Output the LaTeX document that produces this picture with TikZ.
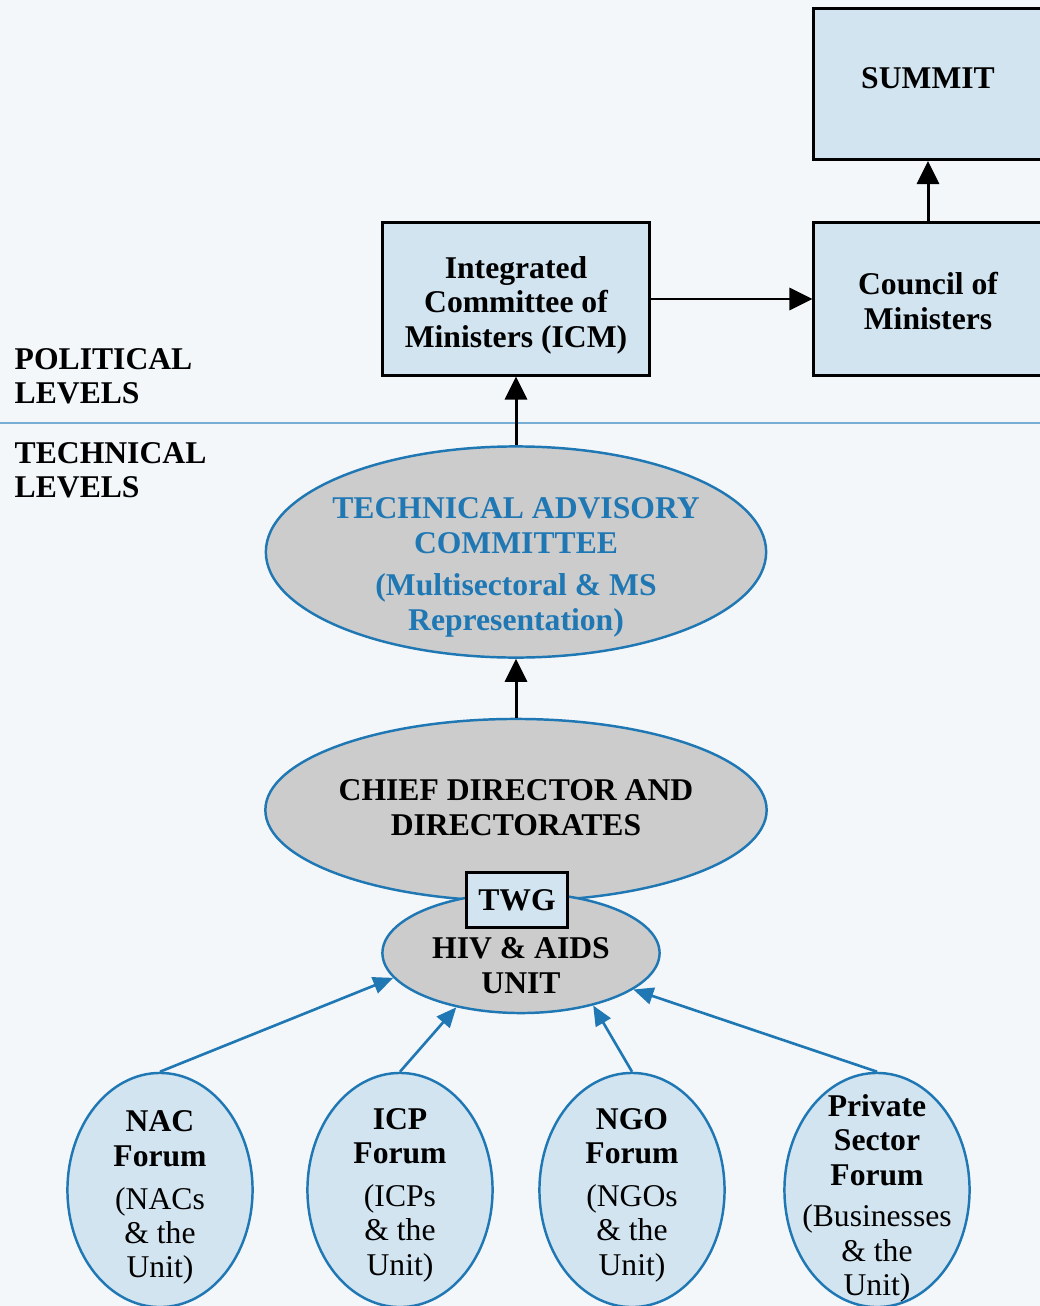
\documentclass[tikz,border=0pt]{standalone}
\usepackage{fontspec}
\setmainfont{Liberation Serif}
\usetikzlibrary{arrows.meta, positioning, shapes.geometric}
\definecolor{pagebg}{RGB}{243,247,250}
\definecolor{boxblue}{RGB}{210,228,240}
\definecolor{ovalgray}{RGB}{204,204,204}
\definecolor{linkblue}{RGB}{31,119,180}
\definecolor{ruleblue}{RGB}{120,174,212}

\begin{document}
\begin{tikzpicture}[x=0.01cm, y=-0.01cm,
      box/.style={rectangle, draw=black, line width=0.85pt, fill=boxblue, inner sep=0pt, minimum width=2.66cm, minimum height=1.52cm, align=center, text depth=0pt, font=\fontsize{9}{9.8}\selectfont\bfseries},
      oval/.style={ellipse, draw=linkblue, line width=0.7pt, fill=ovalgray, inner sep=-8pt, align=center, text depth=0pt, font=\fontsize{9}{9.8}\selectfont\bfseries},
      forum/.style={ellipse, draw=linkblue, line width=0.7pt, fill=boxblue, inner sep=-14pt, minimum width=1.85cm, minimum height=2.34cm, align=center, text height=50.5pt, text depth=2pt, font=\fontsize{9}{9.8}\selectfont},
      level/.style={anchor=west, align=left, inner sep=0pt, font=\fontsize{9}{9.8}\selectfont\bfseries},
      arr/.style={-{Triangle[length=0.23cm, width=0.22cm]}, line width=0.85pt, black},
      barr/.style={-{Triangle[length=0.2cm, width=0.17cm]}, line width=0.75pt, linkblue}
    ]
      \clip (0,0) rectangle (1040,1306);
      \fill[pagebg] (0,0) rectangle (1040,1306);
      \draw[ruleblue, line width=0.7pt] (0,423) -- (1040,423);

      \node[level] (political) at (14,376) {POLITICAL\\LEVELS};
      \node[level] (technical) at (14,470) {TECHNICAL\\LEVELS};

      \node[box, minimum width=2.28cm, minimum height=1.51cm, text height=2.8pt] (summit) at (928,84) {SUMMIT};
      \node[box, minimum width=2.28cm, text height=17.2pt] (council) at (928,299) {Council of\\Ministers};
      \node[box, text height=29.4pt, text depth=2pt] (icm) at (516,299) {Integrated\\Committee of\\Ministers (ICM)};

      \node[oval, text=linkblue, minimum width=5cm, minimum height=2.11cm, text height=46.6pt, text depth=2pt] (tac) at (516,552) {TECHNICAL ADVISORY\\COMMITTEE\\[2.3pt](Multisectoral \& MS\\Representation)};
      \node[oval, minimum width=5.01cm, minimum height=1.82cm, text height=14.4pt] (cdd) at (516,810) {CHIEF DIRECTOR AND\\DIRECTORATES};
      \node[oval, minimum width=2.77cm, minimum height=1.2cm, text height=23pt] (hiv) at (521,953) {HIV \& AIDS\\UNIT};
      \node[box, minimum width=1.01cm, minimum height=0.55cm] (twg) at (517,900) {TWG};

      \node[forum, text height=52pt] (nac) at (160,1190) {\textbf{NAC}\\\textbf{Forum}\\[2.3pt](NACs\\\& the\\Unit)};
      \node[forum] (icp) at (400,1190) {\textbf{ICP}\\\textbf{Forum}\\[2.3pt](ICPs\\\& the\\Unit)};
      \node[forum] (ngo) at (632,1190) {\textbf{NGO}\\\textbf{Forum}\\[2.3pt](NGOs\\\& the\\Unit)};
      \node[forum, text height=62pt] (private) at (877,1190) {\textbf{Private}\\\textbf{Sector}\\\textbf{Forum}\\[2pt](Businesses\\\& the\\Unit)};

      \draw[arr] (icm) -- (council);
      \draw[arr] (council) -- (summit);
      \draw[arr] (tac) -- (icm);
      \draw[arr] (cdd) -- (tac);
      \draw[barr] (nac.north) -- (hiv.191);
      \draw[barr] (icp.north) -- (hiv.220);
      \draw[barr] (ngo.north) -- (hiv.324);
      \draw[barr] (private.north) -- (hiv.342);
    \end{tikzpicture}
\end{document}
